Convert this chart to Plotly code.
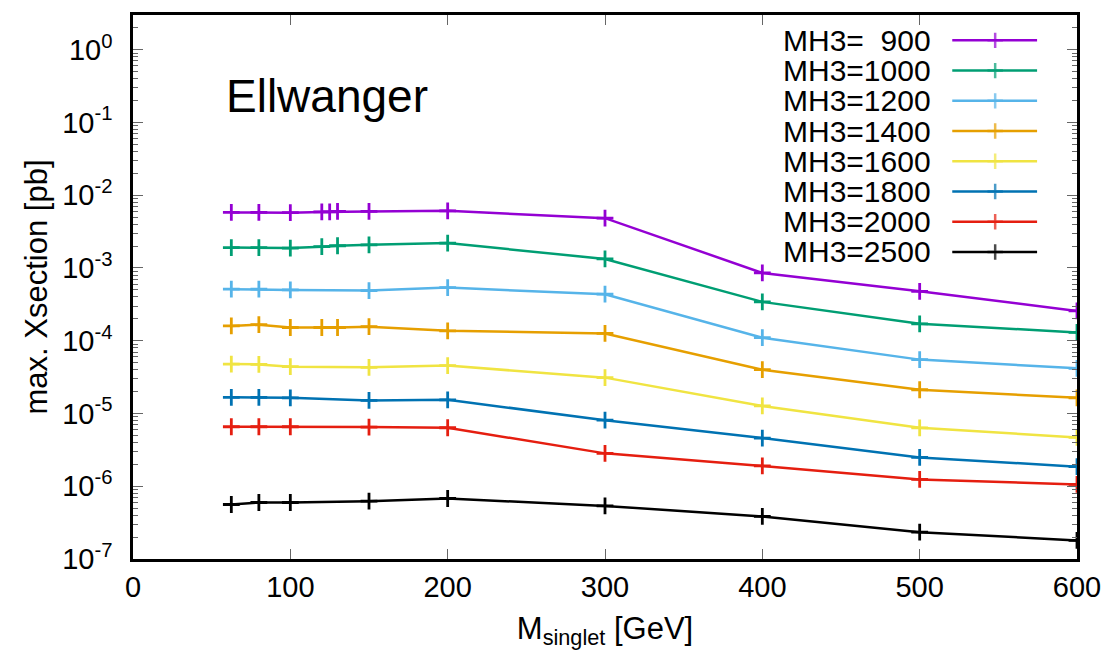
import plotly.graph_objects as go

# ---------------- data ----------------
x_900 = [62.5, 80, 100, 120, 125, 130, 150, 200, 300, 400, 500, 600]
y_900 = [5.8e-3, 5.8e-3, 5.75e-3, 5.9e-3, 5.9e-3, 5.98e-3, 5.98e-3, 6.1e-3, 4.84e-3, 8.55e-4, 4.78e-4, 2.57e-4]

x_1000 = [62.5, 80, 100, 120, 130, 150, 200, 300, 400, 500, 600]
y_1000 = [1.91e-3, 1.91e-3, 1.88e-3, 1.96e-3, 2.02e-3, 2.08e-3, 2.2e-3, 1.33e-3, 3.42e-4, 1.71e-4, 1.30e-4]

x_1200 = [62.5, 80, 100, 150, 200, 300, 400, 500, 600]
y_1200 = [5.11e-4, 5.11e-4, 5.0e-4, 4.89e-4, 5.37e-4, 4.36e-4, 1.10e-4, 5.5e-5, 4.18e-5]

x_1400 = [62.5, 80, 100, 120, 130, 150, 200, 300, 400, 500, 600]
y_1400 = [1.60e-4, 1.66e-4, 1.52e-4, 1.52e-4, 1.52e-4, 1.56e-4, 1.37e-4, 1.26e-4, 4.0e-5, 2.12e-5, 1.64e-5]

x_1600 = [62.5, 80, 100, 150, 200, 300, 400, 500, 600]
y_1600 = [4.78e-5, 4.73e-5, 4.40e-5, 4.31e-5, 4.55e-5, 3.11e-5, 1.27e-5, 6.35e-6, 4.69e-6]

x_1800 = [62.5, 80, 100, 150, 200, 300, 400, 500, 600]
y_1800 = [1.67e-5, 1.67e-5, 1.64e-5, 1.51e-5, 1.54e-5, 8.1e-6, 4.59e-6, 2.49e-6, 1.86e-6]

x_2000 = [62.5, 80, 100, 150, 200, 300, 400, 500, 600]
y_2000 = [6.57e-6, 6.57e-6, 6.57e-6, 6.51e-6, 6.37e-6, 2.83e-6, 1.90e-6, 1.24e-6, 1.06e-6]

x_2500 = [62.5, 80, 100, 150, 200, 300, 400, 500, 600]
y_2500 = [5.61e-7, 5.98e-7, 5.98e-7, 6.23e-7, 6.79e-7, 5.37e-7, 3.85e-7, 2.34e-7, 1.80e-7]

series_labels = ["MH3=\u00a0\u00a0900", "MH3=1000", "MH3=1200", "MH3=1400",
                 "MH3=1600", "MH3=1800", "MH3=2000", "MH3=2500"]
series_x = [x_900, x_1000, x_1200, x_1400, x_1600, x_1800, x_2000, x_2500]
series_y = [y_900, y_1000, y_1200, y_1400, y_1600, y_1800, y_2000, y_2500]

x_ticks = [0, 100, 200, 300, 400, 500, 600]
y_exponents = [-7, -6, -5, -4, -3, -2, -1, 0]

# ---------------- style ----------------
colors = ["#9400d3", "#009e73", "#56b4e9", "#e69f00",
          "#f0e442", "#0072b2", "#e51e10", "#000000"]
FONT = "Liberation Sans"
W, H = 1113, 658
L, R, T, B = 133, 1079, 12, 559   # plot area in pixels

def px_x(p):
    return (p - L) / (R - L)

def px_y(p):
    return (B - p) / (B - T)

fig = go.Figure()

for lab, xs, ys, c in zip(series_labels, series_x, series_y, colors):
    fig.add_trace(go.Scatter(
        x=xs, y=ys, mode="lines+markers", name=lab,
        line=dict(color=c, width=2.5),
        marker=dict(symbol="cross-thin", size=12, line=dict(color=c, width=2.8)),
        showlegend=False, xaxis="x", yaxis="y"))

# custom legend (text on the left, sample on the right), gnuplot style
row0, drow = 37.5, 30.4
line_x0, line_xm, line_x1 = px_x(954), px_x(997), px_x(1039)
text_x = px_x(935)
for i, (lab, c) in enumerate(zip(series_labels, colors)):
    yy = px_y(row0 + drow * i)
    fig.add_trace(go.Scatter(
        x=[line_x0, line_xm, line_x1], y=[yy, yy, yy], mode="lines+markers",
        line=dict(color=c, width=2.5),
        marker=dict(symbol="cross-thin", size=[0, 11, 0], line=dict(color=c, width=2.5)),
        showlegend=False, hoverinfo="skip", xaxis="x2", yaxis="y2"))
    fig.add_annotation(x=text_x, y=yy, xref="x2", yref="y2", text=lab,
                       showarrow=False, xanchor="right", yanchor="middle",
                       font=dict(family=FONT, size=30, color="black"))

fig.add_annotation(x=px_x(224), y=px_y(93), xref="x2", yref="y2", text="Ellwanger",
                   showarrow=False, xanchor="left", yanchor="middle",
                   font=dict(family=FONT, size=46, color="black"))

major_vals = [10.0 ** e for e in y_exponents]
major_text = ["10<sup>%d</sup>" % e for e in y_exponents]
minor_vals = [k * 10.0 ** e for e in range(-7, 1) for k in range(2, 10) if k * 10.0 ** e < 3.0]

fig.update_layout(
    width=W, height=H,
    margin=dict(l=L, r=W - R, t=T, b=H - B),
    paper_bgcolor="white", plot_bgcolor="white",
    font=dict(family=FONT, size=29, color="black"),
    showlegend=False,
    xaxis=dict(
        range=[0, 600], tickmode="array", tickvals=x_ticks,
        ticks="inside", ticklen=10, tickwidth=1, tickcolor="#666",
        showline=True, linecolor="black", linewidth=2.5, mirror="allticks",
        showgrid=False, zeroline=False,
        tickfont=dict(family=FONT, size=29),
        title=dict(text="M<sub>singlet</sub> [GeV]", font=dict(family=FONT, size=31), standoff=16),
    ),
    yaxis=dict(
        type="log", range=[-7, 0.477],
        tickmode="array", tickvals=major_vals, ticktext=major_text,
        ticks="inside", ticklen=10, tickwidth=1, tickcolor="#666",
        minor=dict(tickmode="array", tickvals=minor_vals, ticks="inside",
                   ticklen=5, tickwidth=1, tickcolor="#666", showgrid=False),
        showline=True, linecolor="black", linewidth=2.5, mirror="allticks",
        showgrid=False, zeroline=False, ticklabelstandoff=12,
        tickfont=dict(family=FONT, size=29),
        title=dict(text="max. Xsection [pb]", font=dict(family=FONT, size=31), standoff=6),
    ),
    xaxis2=dict(range=[0, 1], overlaying="x", visible=False, fixedrange=True),
    yaxis2=dict(range=[0, 1], overlaying="y", visible=False, fixedrange=True),
)

fig.write_html("out.html")
